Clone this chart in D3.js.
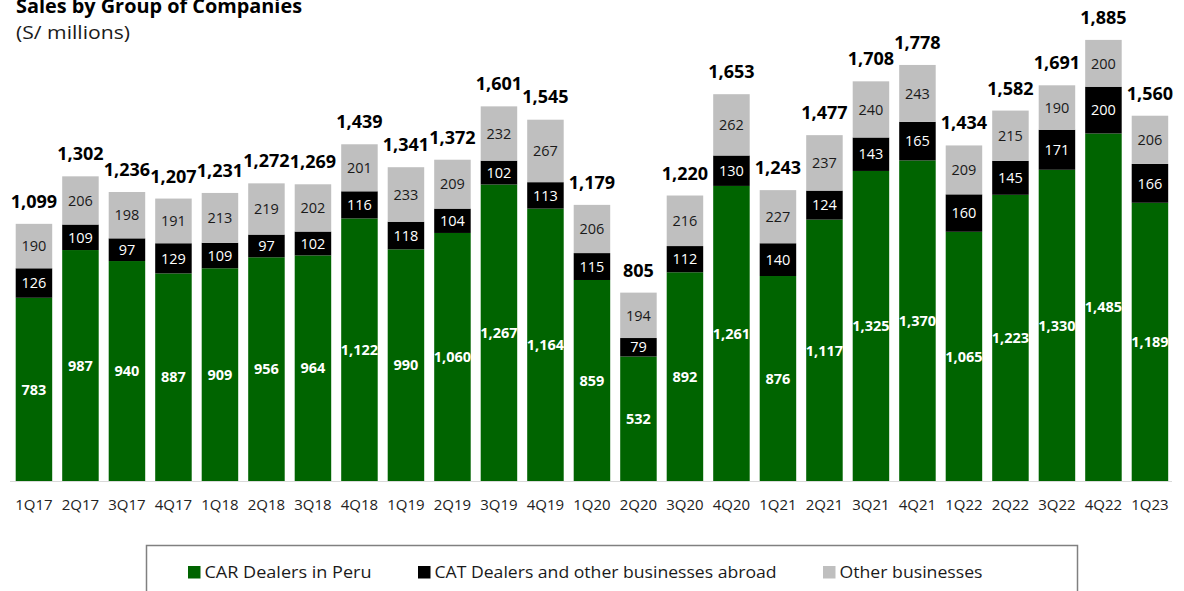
<!DOCTYPE html>
<html>
<head>
<meta charset="utf-8">
<script src="https://cdn.jsdelivr.net/npm/d3@7"></script>
<style>
  html, body { margin: 0; padding: 0; background: #fff; }
  svg { display: block; font-family: "Open Sans", Lato, sans-serif; }
</style>
</head>
<body>
<svg id="chart" width="1184" height="591"></svg>
<script>
// Quarterly sales (S/ millions) by group of companies
const quarters = ["1Q17","2Q17","3Q17","4Q17","1Q18","2Q18","3Q18","4Q18","1Q19","2Q19","3Q19","4Q19",
                  "1Q20","2Q20","3Q20","4Q20","1Q21","2Q21","3Q21","4Q21","1Q22","2Q22","3Q22","4Q22","1Q23"];
const carDealersPeru = [783,987,940,887,909,956,964,1122,990,1060,1267,1164,859,532,892,1261,876,1117,1325,1370,1065,1223,1330,1485,1189];
const catDealersAbroad = [126,109,97,129,109,97,102,116,118,104,102,113,115,79,112,130,140,124,143,165,160,145,171,200,166];
const otherBusinesses = [190,206,198,191,213,219,202,201,233,209,232,267,206,194,216,262,227,237,240,243,209,215,190,200,206];
const totals = [1099,1302,1236,1207,1231,1272,1269,1439,1341,1372,1601,1545,1179,805,1220,1653,1243,1477,1708,1778,1434,1582,1691,1885,1560];

const seriesNames = ["CAR Dealers in Peru", "CAT Dealers and other businesses abroad", "Other businesses"];
const seriesColors = ["#006400", "#000000", "#bfbfbf"];
const labelColors = ["#ffffff", "#ffffff", "#1a1a1a"];

const svg = d3.select("#chart");
const fmt = d3.format(",");

const x = d3.scaleBand().domain(quarters).range([6.4, 1177.5]).paddingInner(0.215).paddingOuter(0.2);
const y = d3.scaleLinear().domain([0, 2000]).range([481, 13]);

// Title (slightly condensed font stretched to the heading's width)
svg.append("text").attr("x", 16).attr("y", 13)
  .attr("font-size", 19).attr("font-weight", 700).attr("fill", "#000")
  .attr("textLength", 286).attr("lengthAdjust", "spacingAndGlyphs")
  .text("Sales by Group of Companies");
svg.append("text").attr("x", 16).attr("y", 39)
  .attr("font-size", 18.5).attr("fill", "#1a1a1a")
  .attr("textLength", 114).attr("lengthAdjust", "spacingAndGlyphs")
  .text("(S/ millions)");

// Stack the three series
const rows = quarters.map((q, i) => ({
  q, s0: carDealersPeru[i], s1: catDealersAbroad[i], s2: otherBusinesses[i], total: totals[i]
}));
const stack = d3.stack().keys(["s0", "s1", "s2"])(rows);

const layers = svg.append("g").selectAll("g").data(stack).join("g")
  .attr("fill", (d, i) => seriesColors[i]);

layers.selectAll("rect").data(d => d).join("rect")
  .attr("x", d => x(d.data.q))
  .attr("width", x.bandwidth())
  .attr("y", d => y(d[1]))
  .attr("height", d => y(d[0]) - y(d[1]));

// Segment value labels
layers.each(function(layer, li) {
  d3.select(this).selectAll("text").data(layer).join("text")
    .attr("x", d => x(d.data.q) + x.bandwidth() / 2)
    .attr("y", d => (y(d[0]) + y(d[1])) / 2)
    .attr("dy", "0.36em")
    .attr("text-anchor", "middle")
    .attr("font-size", 14.5)
    .attr("font-weight", li === 0 ? 700 : 400)
    .attr("fill", labelColors[li])
    .text(d => fmt(d[1] - d[0]));
});

// Totals above the bars
svg.append("g").selectAll("text").data(rows).join("text")
  .attr("x", d => x(d.q) + x.bandwidth() / 2)
  .attr("y", d => y(d.total) - 16)
  .attr("text-anchor", "middle")
  .attr("font-size", 18).attr("font-weight", 700).attr("fill", "#000")
  .text(d => fmt(d.total));

// Baseline
svg.append("line").attr("x1", 10).attr("x2", 1172)
  .attr("y1", y(0) + 0.5).attr("y2", y(0) + 0.5)
  .attr("stroke", "#d9d9d9").attr("stroke-width", 1);

// Category axis labels
const xAxis = d3.axisBottom(x).tickSize(0).tickPadding(0);
const gx = svg.append("g").attr("transform", `translate(0,${y(0)})`).call(xAxis);
gx.select(".domain").remove();
gx.selectAll("text").attr("font-family", "'Open Sans', Lato, sans-serif")
  .attr("font-size", 15).attr("fill", "#222").attr("dy", 0).attr("y", 29);

// Legend
const legend = svg.append("g");
legend.append("rect").attr("x", 146.5).attr("y", 545.5).attr("width", 931).attr("height", 60)
  .attr("fill", "#fff").attr("stroke", "#808080").attr("stroke-width", 1.5);
const legendX = [188, 418, 823];
const legendTextWidth = [167, 342, 143];
seriesNames.forEach((name, i) => {
  legend.append("rect").attr("x", legendX[i]).attr("y", 566).attr("width", 12.5).attr("height", 12.5)
    .attr("fill", seriesColors[i]);
  legend.append("text").attr("x", legendX[i] + 16.5).attr("y", 578)
    .attr("font-size", 16).attr("fill", "#1a1a1a")
    .attr("textLength", legendTextWidth[i]).attr("lengthAdjust", "spacingAndGlyphs")
    .text(name);
});
</script>
</body>
</html>
